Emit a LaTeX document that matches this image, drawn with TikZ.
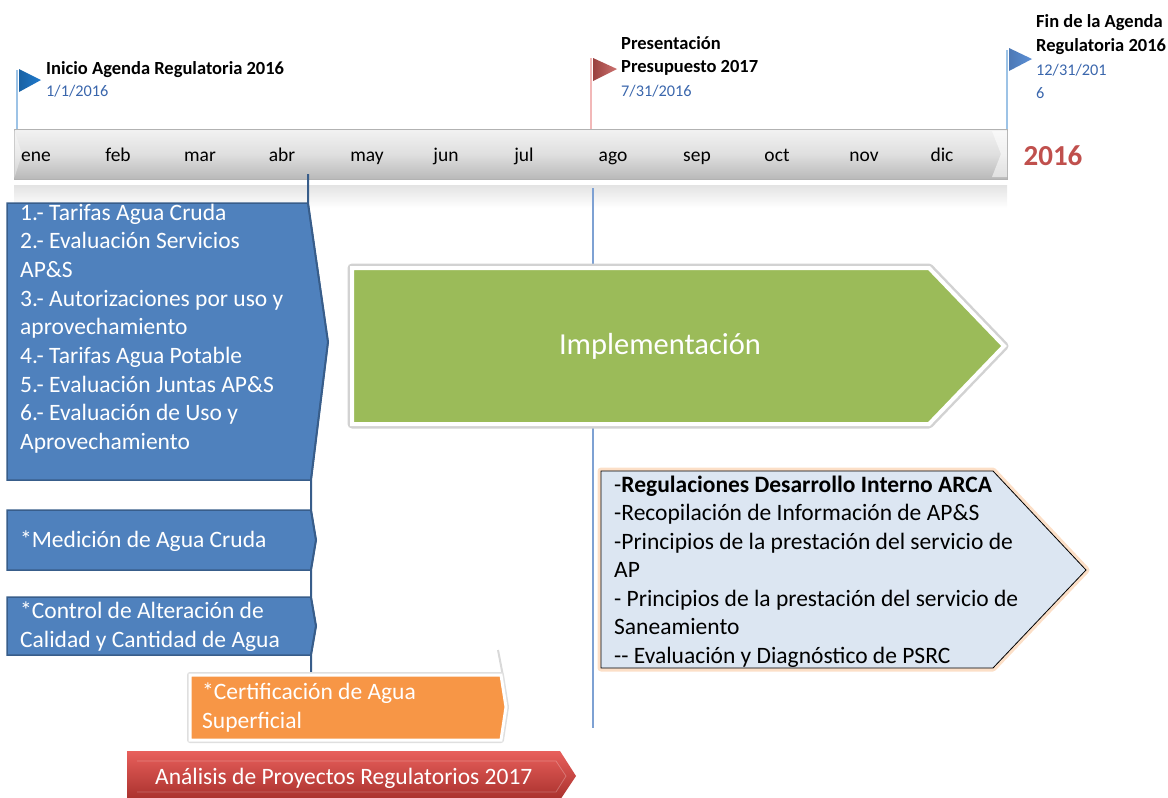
\documentclass[tikz,border=0pt]{standalone}
\usepackage{fontspec}
\setmainfont{Carlito}
\usetikzlibrary{shadows}
\definecolor{bluebox}{HTML}{4F81BD}
\definecolor{blueedge}{HTML}{385D8A}
\definecolor{vline}{HTML}{7EA1D3}
\definecolor{greenbox}{HTML}{9BBB59}
\definecolor{orangebox}{HTML}{F79646}
\definecolor{redbox}{HTML}{C0504D}
\definecolor{redtop}{HTML}{E8605C}
\definecolor{reddark}{HTML}{A8302C}
\definecolor{lightbox}{HTML}{DCE6F2}
\definecolor{datecol}{HTML}{3A66AC}
\definecolor{flagblue}{HTML}{1F7ACD}
\definecolor{flagblue2}{HTML}{5B8FD6}
\definecolor{flagline}{HTML}{9DC3E6}
\definecolor{flagpink}{HTML}{F2B8B8}
\definecolor{yearred}{HTML}{C0504D}
\tikzset{
  month/.style={font=\fontsize{19.5}{22}\selectfont, anchor=base, inner sep=0pt},
  wtext/.style={font=\fontsize{23.5}{26}\selectfont, text=white, anchor=base west, inner sep=0pt},
  btext/.style={font=\fontsize{23.5}{26}\selectfont, text=black, anchor=base west, inner sep=0pt},
  mtitle/.style={font=\bfseries\fontsize{18.5}{20}\selectfont, anchor=base west, inner sep=0pt},
  mdate/.style={font=\fontsize{16.3}{18}\selectfont, text=datecol, anchor=base west, inner sep=0pt},
  bluebody/.style={fill=bluebox, draw=blueedge, line width=1.5pt},
}
\begin{document}
\begin{tikzpicture}[x=1pt,y=-1pt]
\useasboundingbox (0,0) rectangle (1168,798);

% ---- timeline bar ----
\shade[top color=gray!10, bottom color=gray!55, middle color=gray!25] (14,129) rectangle (1007,179);
\draw[gray!60, line width=0.8pt] (14,129) rectangle (1007,179);
\fill[white, opacity=0.55] (992,131) -- (1007,131) -- (1007,177) -- (992,177) -- (1001,154) -- cycle;
\fill[white, opacity=0.35] (14,129) -- (22,154) -- (14,179) -- cycle;
\shade[top color=gray!22, bottom color=white] (14,185) rectangle (1007,208);

\foreach \m/\x [count=\i] in {ene/36,feb/118,mar/200,abr/282,may/367,jun/446,jul/524,ago/613,sep/697,oct/777,nov/864,dic/942}
  \node[month, name=mon\i] at (\x,161) {\m};
\node[font=\bfseries\fontsize{29}{31}\selectfont, text=yearred, anchor=base, inner sep=0pt] (year) at (1053,165) {2016};

% ---- milestone flags ----
\coordinate (f1top) at (17,70);
\coordinate (f1bot) at (17,129);
\draw[flagline, line width=1.2pt] (f1top) -- (f1bot);
\shade[left color=flagblue!80!black, right color=flagblue] (19,69) -- (41,80) -- (19,92) -- cycle;
\node[mtitle] (t1) at (46,74) {Inicio Agenda Regulatoria 2016};
\node[mdate] (d1) at (46,96) {1/1/2016};

\coordinate (f2top) at (591,58);
\coordinate (f2bot) at (591,129);
\draw[flagpink, line width=1.2pt] (f2top) -- (f2bot);
\shade[left color=redbox!80!black, right color=redbox!80] (593,58) -- (617,69) -- (593,81) -- cycle;
\node[mtitle] (t2a) at (621,49) {Presentación};
\node[mtitle] (t2b) at (621,72) {Presupuesto 2017};
\node[mdate] (d2) at (621,96) {7/31/2016};

\coordinate (f3top) at (1007,50);
\coordinate (f3bot) at (1007,129);
\draw[flagline, line width=1.2pt] (f3top) -- (f3bot);
\shade[left color=flagblue2!85!black, right color=flagblue2] (1009,48) -- (1032,59) -- (1009,71) -- cycle;
\node[mtitle] (t3a) at (1036,27) {Fin de la Agenda};
\node[mtitle] (t3b) at (1036,51) {Regulatoria 2016};
\node[mdate] (d3a) at (1036,75) {12/31/201};
\node[mdate] (d3b) at (1036,98) {6};

% ---- vertical line at agosto ----
\coordinate (vtop) at (593,188);
\coordinate (vbot) at (593,728);
\draw[vline, line width=1.3pt] (vtop) -- (vbot);

% ---- blue boxes ----
\draw[bluebody] (7,203) -- (308,203) -- (328,342) -- (311,480) -- (7,480) -- cycle;
\draw[bluebody] (7,510) -- (311,510) -- (316,540) -- (311,570) -- (7,570) -- cycle;
\draw[bluebody] (7,597) -- (311,597) -- (316,626) -- (311,655) -- (7,655) -- cycle;
\draw[blueedge, line width=2pt] (308,174) -- (308,203) -- (328,342) -- (311,480) -- (311,510) -- (316,540) -- (311,570) -- (311,597) -- (316,626) -- (311,655) -- (311,672);

\foreach \t [count=\i from 0] in {1.- Tarifas Agua Cruda, 2.- Evaluación Servicios, AP\&S, 3.- Autorizaciones por uso y, aprovechamiento, 4.- Tarifas Agua Potable, 5.- Evaluación Juntas AP\&S, 6.- Evaluación de Uso y, Aprovechamiento}
  \node[wtext, name=b1l\i] at (20,{220+\i*28.7}) {\t};
\node[wtext] (b2) at (20,547) {*Medición de Agua Cruda};
\node[wtext] (b3a) at (20,618) {*Control de Alteración de};
\node[wtext] (b3b) at (20,647) {Calidad y Cantidad de Agua};

% ---- orange box ----
\draw[gray!30, line width=2pt] (498,650) -- (503,676);
\draw[gray!25, line width=6pt, line join=round] (190,675) -- (501,675) -- (506,707) -- (501,740) -- (190,740) -- cycle;
\draw[white, line width=3pt, fill=orangebox]
  (190,675) -- (501,675) -- (506,707) -- (501,740) -- (190,740) -- cycle;
\node[wtext] (o1) at (202,699) {*Certificación de Agua};
\node[wtext] (o2) at (202,728) {Superficial};

% ---- red arrow ----
\shade[top color=redtop, bottom color=reddark] (127,751) -- (560,751) -- (576,776) -- (560,800) -- (127,800) -- cycle;
\draw[white, opacity=0.25, line width=0.8pt] (137,761) -- (556,761) -- (566,776) -- (556,792) -- (137,792);
\node[wtext] (r1) at (155,784) {Análisis de Proyectos Regulatorios 2017};

% ---- green implementation arrow ----
\draw[gray!35, line width=9pt, line join=round] (352,268) -- (929,268) -- (1004,346) -- (929,424) -- (352,424) -- cycle;
\draw[white, line width=4pt, fill=greenbox, line join=miter]
  (352,268) -- (929,268) -- (1004,346) -- (929,424) -- (352,424) -- cycle;
\node[font=\fontsize{30.5}{32}\selectfont, text=white, inner sep=0pt] (impl) at (660,346) {Implementación};

% ---- light blue box ----
\draw[orangebox!60, line width=7pt, opacity=0.5, line join=round] (601,471) -- (993,471) -- (1086,570) -- (993,668) -- (601,668) -- cycle;
\draw[black, line width=0.8pt, fill=lightbox] (601,471) -- (993,471) -- (1086,570) -- (993,668) -- (601,668) -- cycle;
\node[btext] (lb0) at (614,492) {-\textbf{Regulaciones Desarrollo Interno ARCA}};
\foreach \t [count=\i] in {-Recopilación de Información de AP\&S, -Principios de la prestación del servicio de, AP, - Principios de la prestación del servicio de, Saneamiento, -{}- Evaluación y Diagnóstico de PSRC}
  \node[btext, name=lb\i] at (614,{492+\i*28.5}) {\t};
\end{tikzpicture}
\end{document}
